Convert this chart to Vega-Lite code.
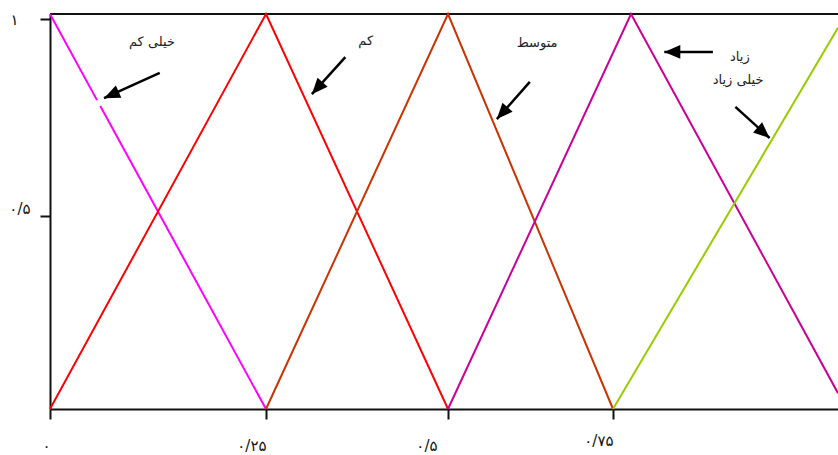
{
  "$schema": "https://vega.github.io/schema/vega-lite/v6.json",
  "width": 788,
  "height": 395,
  "autosize": {"type": "none"},
  "padding": {"left": 50, "top": 14, "right": 0, "bottom": 46},
  "background": "white",
  "config": {
    "view": {"stroke": null},
    "font": "DejaVu Sans",
    "axis": {
      "grid": false,
      "domainColor": "#111111",
      "domainWidth": 2,
      "tickColor": "#111111",
      "tickWidth": 2,
      "tickSize": 10,
      "labelColor": "#111111",
      "labelFont": "DejaVu Sans",
      "labelFontSize": 15,
      "title": null
    }
  },
  "datasets": {
    "curves": [
      {"term": "خیلی کم", "seg": "a", "x": 0, "y": 1},
      {"term": "خیلی کم", "seg": "a", "x": 0.0544, "y": 0.782},
      {"term": "خیلی کم", "seg": "b", "x": 0.0582, "y": 0.767},
      {"term": "خیلی کم", "seg": "b", "x": 0.25, "y": 0},
      {"term": "کم", "seg": "a", "x": 0, "y": 0},
      {"term": "کم", "seg": "a", "x": 0.25, "y": 1},
      {"term": "کم", "seg": "a", "x": 0.5, "y": 0},
      {"term": "متوسط", "seg": "a", "x": 0.25, "y": 0},
      {"term": "متوسط", "seg": "a", "x": 0.5, "y": 1},
      {"term": "متوسط", "seg": "a", "x": 0.75, "y": 0},
      {"term": "زیاد", "seg": "a", "x": 0.5, "y": 0},
      {"term": "زیاد", "seg": "a", "x": 0.77, "y": 1},
      {"term": "زیاد", "seg": "a", "x": 1, "y": 0.04},
      {"term": "خیلی زیاد", "seg": "a", "x": 0.75, "y": 0},
      {"term": "خیلی زیاد", "seg": "a", "x": 1, "y": 0.965}
    ],
    "arrows": [
      {"term": "خیلی کم", "x": 0.127, "y": 0.851, "x2": 0.0625, "y2": 0.787},
      {"term": "کم", "x": 0.359, "y": 0.891, "x2": 0.313, "y2": 0.797},
      {"term": "متوسط", "x": 0.624, "y": 0.828, "x2": 0.574, "y2": 0.734},
      {"term": "زیاد", "x": 0.861, "y": 0.904, "x2": 0.807, "y2": 0.904},
      {"term": "خیلی زیاد", "x": 0.886, "y": 0.765, "x2": 0.924, "y2": 0.686}
    ],
    "labels": [
      {"text": "خیلی کم", "x": 0.118, "y": 0.929},
      {"text": "کم", "x": 0.387, "y": 0.932},
      {"text": "متوسط", "x": 0.635, "y": 0.927},
      {"text": "زیاد", "x": 0.891, "y": 0.891},
      {"text": "خیلی زیاد", "x": 0.889, "y": 0.832}
    ]
  },
  "layer": [
    {
      "data": {"values": [{"y": 1}]},
      "mark": {"type": "rule", "color": "#111111", "strokeWidth": 2},
      "encoding": {
        "y": {"field": "y", "type": "quantitative", "scale": {"domain": [0, 1], "nice": false, "zero": false}}
      }
    },
    {
      "data": {"name": "curves"},
      "mark": {"type": "line", "strokeWidth": 2},
      "encoding": {
        "x": {
          "field": "x",
          "type": "quantitative",
          "scale": {"domain": [0, 0.25, 0.5, 0.75, 1], "range": [0, 216, 398, 563, 788], "nice": false, "zero": false},
          "axis": {
            "values": [0, 0.25, 0.5, 0.75],
            "labelExpr": "datum.value == 0 ? '۰' : datum.value == 0.25 ? '۰/۲۵' : datum.value == 0.5 ? '۰/۵' : '۰/۷۵'",
            "labelAlign": "right",
            "labelBaseline": "top",
            "labelFlush": false,
            "labelOverlap": false,
            "labelOffset": {"condition": {"test": "datum.value == 0.5", "value": -11}, "value": 0},
            "labelPadding": {"condition": {"test": "datum.value == 0.75", "value": 14}, "value": 19}
          }
        },
        "y": {
          "field": "y",
          "type": "quantitative",
          "scale": {"domain": [0, 1], "nice": false, "zero": false},
          "axis": {
            "values": [0.489, 0.987],
            "labelExpr": "datum.value > 0.9 ? '۱' : '۰/۵'",
            "labelPadding": {"condition": {"test": "datum.value > 0.9", "value": 22}, "value": 10},
            "labelOffset": {"condition": {"test": "datum.value > 0.9", "value": 0}, "value": -7}
          }
        },
        "color": {
          "field": "term",
          "type": "nominal",
          "scale": {
            "domain": ["خیلی کم", "کم", "متوسط", "زیاد", "خیلی زیاد"],
            "range": ["#FF00FF", "#FF0000", "#CC3300", "#CC0099", "#99CC00"]
          },
          "legend": null
        },
        "detail": {"field": "seg", "type": "nominal"}
      }
    },
    {
      "data": {"name": "arrows"},
      "mark": {"type": "rule", "color": "#000000", "strokeWidth": 2.5},
      "encoding": {
        "x": {"field": "x", "type": "quantitative"},
        "y": {"field": "y", "type": "quantitative"},
        "x2": {"field": "x2"},
        "y2": {"field": "y2"}
      }
    },
    {
      "data": {"name": "arrows"},
      "mark": {"type": "point", "shape": "M0,0L0.85,2L-0.85,2Z", "filled": true, "color": "#000000", "opacity": 1, "size": 256, "strokeWidth": 0},
      "encoding": {
        "x": {"field": "x2", "type": "quantitative"},
        "y": {"field": "y2", "type": "quantitative"},
        "angle": {
          "condition": [
            {"test": "datum.term == 'کم'", "value": 222},
            {"test": "datum.term == 'متوسط'", "value": 222},
            {"test": "datum.term == 'زیاد'", "value": 270},
            {"test": "datum.term == 'خیلی زیاد'", "value": 131.5}
          ],
          "value": 246
        }
      }
    },
    {
      "data": {"name": "labels"},
      "mark": {"type": "text", "font": "DejaVu Sans", "fontSize": 13, "color": "#222222", "align": "center", "baseline": "middle"},
      "encoding": {
        "x": {"field": "x", "type": "quantitative"},
        "y": {"field": "y", "type": "quantitative"},
        "text": {"field": "text"}
      }
    }
  ]
}
